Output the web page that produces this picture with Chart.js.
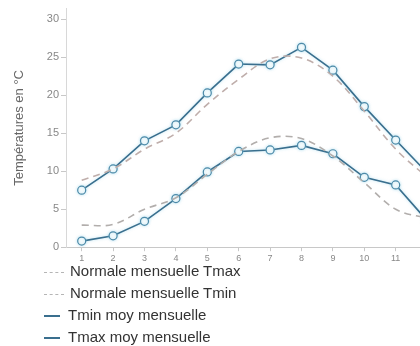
<!DOCTYPE html>
<html>
<head>
<meta charset="utf-8">
<script src="https://cdn.jsdelivr.net/npm/chart.js@4/dist/chart.umd.min.js"></script>
<style>
  body { margin: 0; background: #fff; overflow: hidden; width: 420px; height: 346px; }
  #wrap { position: relative; width: 448px; height: 266px; }
  #legend { position: absolute; left: 44px; top: 260px; font-family: Arial, "Liberation Sans", sans-serif; font-size: 15px; color: #333; }
  .item { height: 22px; line-height: 22px; white-space: nowrap; }
  .sample { display: inline-block; vertical-align: middle; margin-right: 6px; }
</style>
</head>
<body>
<div id="wrap"><canvas id="myChart"></canvas></div>
<div id="legend"></div>
<script>
// mois
var months = ['1', '2', '3', '4', '5', '6', '7', '8', '9', '10', '11', '12'];
// normales (tirets)
var normTmax = [8.8, 10.3, 12.9, 15.0, 18.8, 22.1, 24.8, 24.9, 22.5, 17.9, 12.9, 9.2];
var normTmin = [2.9, 3.0, 5.0, 6.5, 9.6, 12.6, 14.4, 14.3, 12.0, 8.5, 5.0, 3.8];
// moyennes mensuelles
var tminMoy = [0.8, 1.5, 3.4, 6.4, 9.9, 12.6, 12.8, 13.4, 12.3, 9.2, 8.2, 3.5];
var tmaxMoy = [7.5, 10.3, 14.0, 16.1, 20.3, 24.1, 24.0, 26.3, 23.3, 18.5, 14.1, 9.8];
var yTicks = [0, 5, 10, 15, 20, 25, 30];

var lineBlue = '#3a6f8e';

// light halo around the solid lines
var haloPlugin = {
    id: 'halo',
    beforeDatasetDraw: function (chart, args) {
        var ds = chart.data.datasets[args.index];
        if (!ds.halo) return;
        chart.ctx.save();
        chart.ctx.shadowColor = 'rgba(120, 200, 230, 0.5)';
        chart.ctx.shadowBlur = 3;
    },
    afterDatasetDraw: function (chart, args) {
        var ds = chart.data.datasets[args.index];
        if (!ds.halo) return;
        chart.ctx.restore();
    }
};

var datasets = [
    {
        label: 'Normale mensuelle Tmax',
        data: normTmax,
        borderColor: '#bfaeab',
        borderDash: [7, 5],
        borderWidth: 1.6,
        pointRadius: 0,
        tension: 0.35
    },
    {
        label: 'Normale mensuelle Tmin',
        data: normTmin,
        borderColor: '#b2aeac',
        borderDash: [7, 5],
        borderWidth: 1.6,
        pointRadius: 0,
        tension: 0.35
    },
    {
        label: 'Tmin moy mensuelle',
        data: tminMoy,
        borderColor: lineBlue,
        borderWidth: 1.6,
        pointRadius: 4,
        pointBackgroundColor: '#f7fcfd',
        pointBorderColor: '#4d8aa8',
        pointBorderWidth: 1.2,
        tension: 0,
        halo: true
    },
    {
        label: 'Tmax moy mensuelle',
        data: tmaxMoy,
        borderColor: lineBlue,
        borderWidth: 1.6,
        pointRadius: 4,
        pointBackgroundColor: '#f7fcfd',
        pointBorderColor: '#4d8aa8',
        pointBorderWidth: 1.2,
        tension: 0,
        halo: true
    }
];

var chart = new Chart(document.getElementById('myChart'), {
    type: 'line',
    data: { labels: months, datasets: datasets },
    plugins: [haloPlugin],
    options: {
        responsive: true,
        maintainAspectRatio: false,
        animation: false,
        layout: { padding: { left: 12, top: 0, right: 5, bottom: 0 } },
        plugins: {
            legend: { display: false },
            tooltip: { enabled: false }
        },
        scales: {
            x: {
                offset: true,
                grid: { display: true, drawOnChartArea: false, tickLength: 4, color: '#c8c8c8' },
                border: { color: '#c8c8c8' },
                ticks: { color: '#888', font: { family: 'Arial', size: 9 }, padding: 2, maxRotation: 0 }
            },
            y: {
                min: 0,
                max: 31.4,
                afterBuildTicks: function (axis) {
                    axis.ticks = yTicks.map(function (v) { return { value: v }; });
                },
                afterFit: function (axis) {
                    axis.width = 54;
                },
                grid: { display: true, drawOnChartArea: false, tickLength: 5, color: '#c8c8c8' },
                border: { color: '#d8d8d8' },
                ticks: { color: '#888', font: { family: 'Arial', size: 11 }, padding: 2 },
                title: {
                    display: true,
                    text: 'Températures en °C',
                    color: '#666',
                    font: { family: 'Arial', size: 13 },
                    padding: { top: 0, bottom: 8 }
                }
            }
        }
    }
});

// legend, one entry per line
var legend = document.getElementById('legend');
chart.data.datasets.forEach(function (ds) {
    var row = document.createElement('div');
    row.className = 'item';
    var s = document.createElement('span');
    s.className = 'sample';
    if (ds.borderDash) {
        s.style.width = '20px';
        s.style.borderTop = '1px dashed #b5b5b5';
    } else {
        s.style.width = '16px';
        s.style.borderTop = '2px solid ' + lineBlue;
        s.style.marginRight = '8px';
    }
    row.appendChild(s);
    row.appendChild(document.createTextNode(ds.label));
    legend.appendChild(row);
});
</script>
</body>
</html>
